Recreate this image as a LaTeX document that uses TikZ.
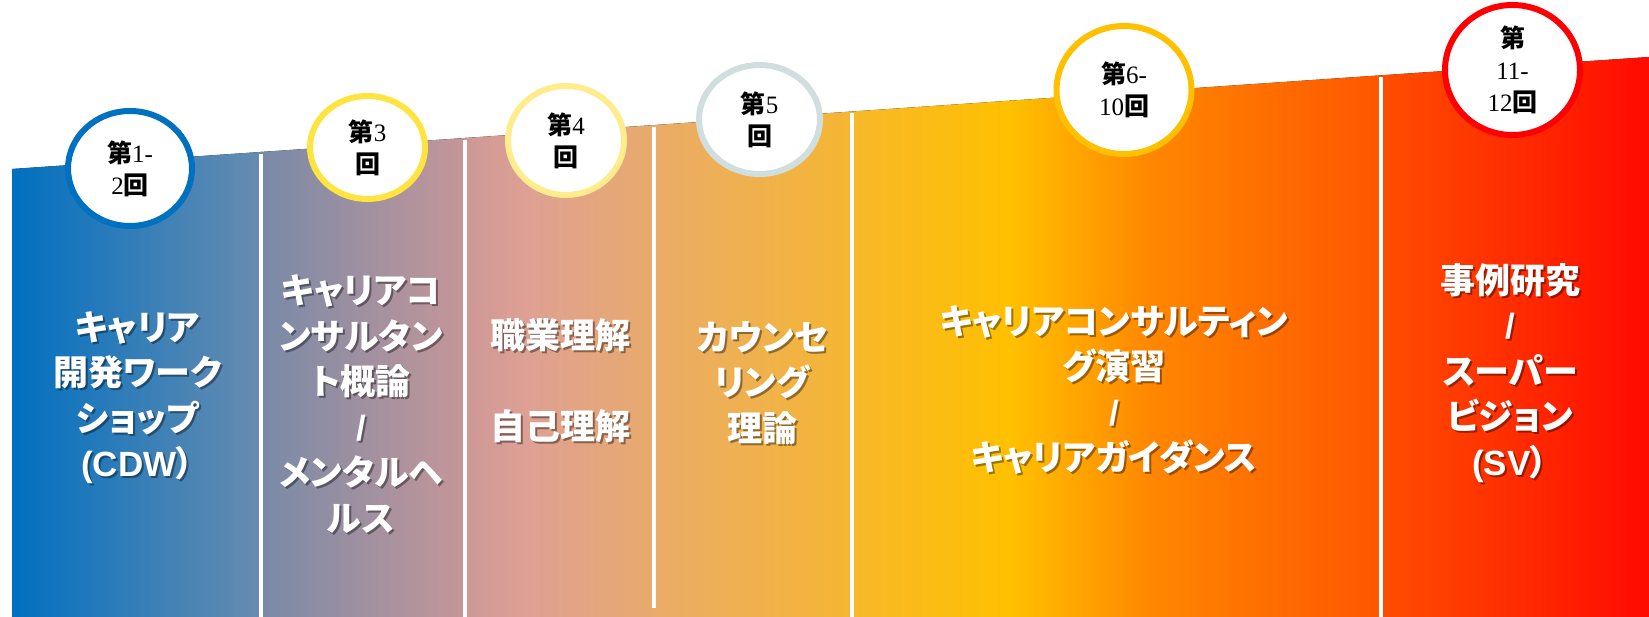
\documentclass[tikz,border=0pt]{standalone}
\usepackage{fontspec}
\newfontfamily\jp{Noto Sans CJK JP}
\newfontfamily\jpp{Noto Sans CJK JP}[RawFeature=+palt]
\newfontfamily\lserif{Liberation Serif}
\newfontfamily\lsans{Liberation Sans}
\usetikzlibrary{shapes.geometric}
\definecolor{ringblue}{RGB}{0,112,192}
\definecolor{ringyellow}{RGB}{255,228,64}
\definecolor{ringpale}{RGB}{255,236,140}
\definecolor{ringgrey}{RGB}{208,222,224}
\definecolor{ringamber}{RGB}{255,192,0}
\definecolor{ringred}{RGB}{255,0,0}
\definecolor{g0}{RGB}{0,112,192}
\definecolor{g1}{RGB}{104,140,176}
\definecolor{g2}{RGB}{120,138,168}
\definecolor{g3}{RGB}{198,150,152}
\definecolor{g4}{RGB}{205,152,150}
\definecolor{g5}{RGB}{222,160,148}
\definecolor{g6}{RGB}{233,170,108}
\definecolor{g7}{RGB}{234,172,104}
\definecolor{g8}{RGB}{245,182,50}
\definecolor{g9}{RGB}{247,184,42}
\definecolor{g10}{RGB}{255,192,0}
\definecolor{g11}{RGB}{255,135,0}
\definecolor{g12}{RGB}{255,85,0}
\definecolor{g13}{RGB}{255,78,0}
\definecolor{g14}{RGB}{255,10,0}
\newcommand\numf[1]{{\lserif\mdseries #1}}
\newcommand\slsh{{\lsans\bfseries /}}
\newcommand\txA{キャリア\\開発ワーク\\ショップ\\{\lsans\bfseries (CDW}）}
\newcommand\txB{キャリアコ\\ンサルタン\\ト概論\\\slsh\\メンタルヘ\\ルス}
\newcommand\txC{職業理解\\\strut\\自己理解}
\newcommand\txD{カウンセ\\リング\\理論}
\newcommand\txE{キャリアコンサルティン\\グ演習\\\slsh\\キャリアガイダンス}
\newcommand\txF{事例研究\\\slsh\\スーパー\\ビジョン\\{\lsans\bfseries (SV}）}
\tikzset{
  badge/.style={ellipse, draw=#1, line width=6pt, fill=white, inner sep=0pt,
    align=center, text=black, font=\jp\bfseries\fontsize{25}{32}\selectfont},
  lbl/.style={align=center, text=white, inner sep=0pt,
    font=\jpp\bfseries\fontsize{35}{45.5}\selectfont},
  lblshadow/.style={align=center, text=black, text opacity=0.4, inner sep=0pt,
    font=\jpp\bfseries\fontsize{35}{45.5}\selectfont},
  divider/.style={draw=white, line width=4.5pt},
}
\begin{document}
\begin{tikzpicture}[x=1pt,y=-1pt]
\useasboundingbox (0,0) rectangle (1649,617);
\fill[white] (0,0) rectangle (1649,617);
% gradient band
\begin{scope}
\clip (12,169) -- (1649,57) -- (1649,617) -- (12,617) -- cycle;
\fill[left color=g0, right color=g1] (11,0) rectangle (261.5,617);
\fill[left color=g2, right color=g3] (261,0) rectangle (465.5,617);
\fill[left color=g4, right color=g5] (465,0) rectangle (525.5,617);
\fill[left color=g5, right color=g6] (525,0) rectangle (654.5,617);
\fill[left color=g7, right color=g8] (654,0) rectangle (852.5,617);
\fill[left color=g9, right color=g10] (852,0) rectangle (1010.5,617);
\fill[left color=g10, right color=g11] (1010,0) rectangle (1150.5,617);
\fill[left color=g11, right color=g12] (1150,0) rectangle (1381.5,617);
\fill[left color=g13, right color=g14] (1381,0) rectangle (1650,617);
\end{scope}
% dividers
\draw[divider] (261,154) -- (261,617);
\draw[divider] (465,140) -- (465,617);
\draw[divider] (654,127) -- (654,608);
\draw[divider] (852,113) -- (852,617);
\draw[divider] (1381,77) -- (1381,617);
% texts
\node[lblshadow] (t1s) at (139.5,399.5) {\txA};
\node[lbl] (t1) at (137.5,397.5) {\txA};
\node[lblshadow] (t2s) at (363,406) {\txB};
\node[lbl] (t2) at (361,404) {\txB};
\node[lblshadow] (t3s) at (562,383) {\txC};
\node[lbl] (t3) at (560,381) {\txC};
\node[lblshadow] (t4s) at (764,385) {\txD};
\node[lbl] (t4) at (762,383) {\txD};
\node[lblshadow] (t5s) at (1116,392) {\txE};
\node[lbl] (t5) at (1114,390) {\txE};
\node[lblshadow] (t6s) at (1512,375) {\txF};
\node[lbl] (t6) at (1510,373) {\txF};
% badges
\node[badge=ringblue, minimum width=124pt, minimum height=115pt] (c1) at (130,168.5)
  {第\numf{1-}\\\numf{2}回};
\node[badge=ringyellow, minimum width=115pt, minimum height=103pt] (c2) at (367.5,147.5)
  {第\numf{3}\\回};
\node[badge=ringpale, minimum width=116pt, minimum height=109pt] (c3) at (566,140.5)
  {第\numf{4}\\回};
\node[badge=ringgrey, minimum width=121pt, minimum height=109pt] (c4) at (759.5,119.5)
  {第\numf{5}\\回};
\node[badge=ringamber, minimum width=135pt, minimum height=128pt] (c5) at (1124,90)
  {第\numf{6-}\\\numf{10}回};
\node[badge=ringred, minimum width=135pt, minimum height=130pt] (c6) at (1512.5,70)
  {第\\\numf{11-}\\\numf{12}回};
\end{tikzpicture}
\end{document}
